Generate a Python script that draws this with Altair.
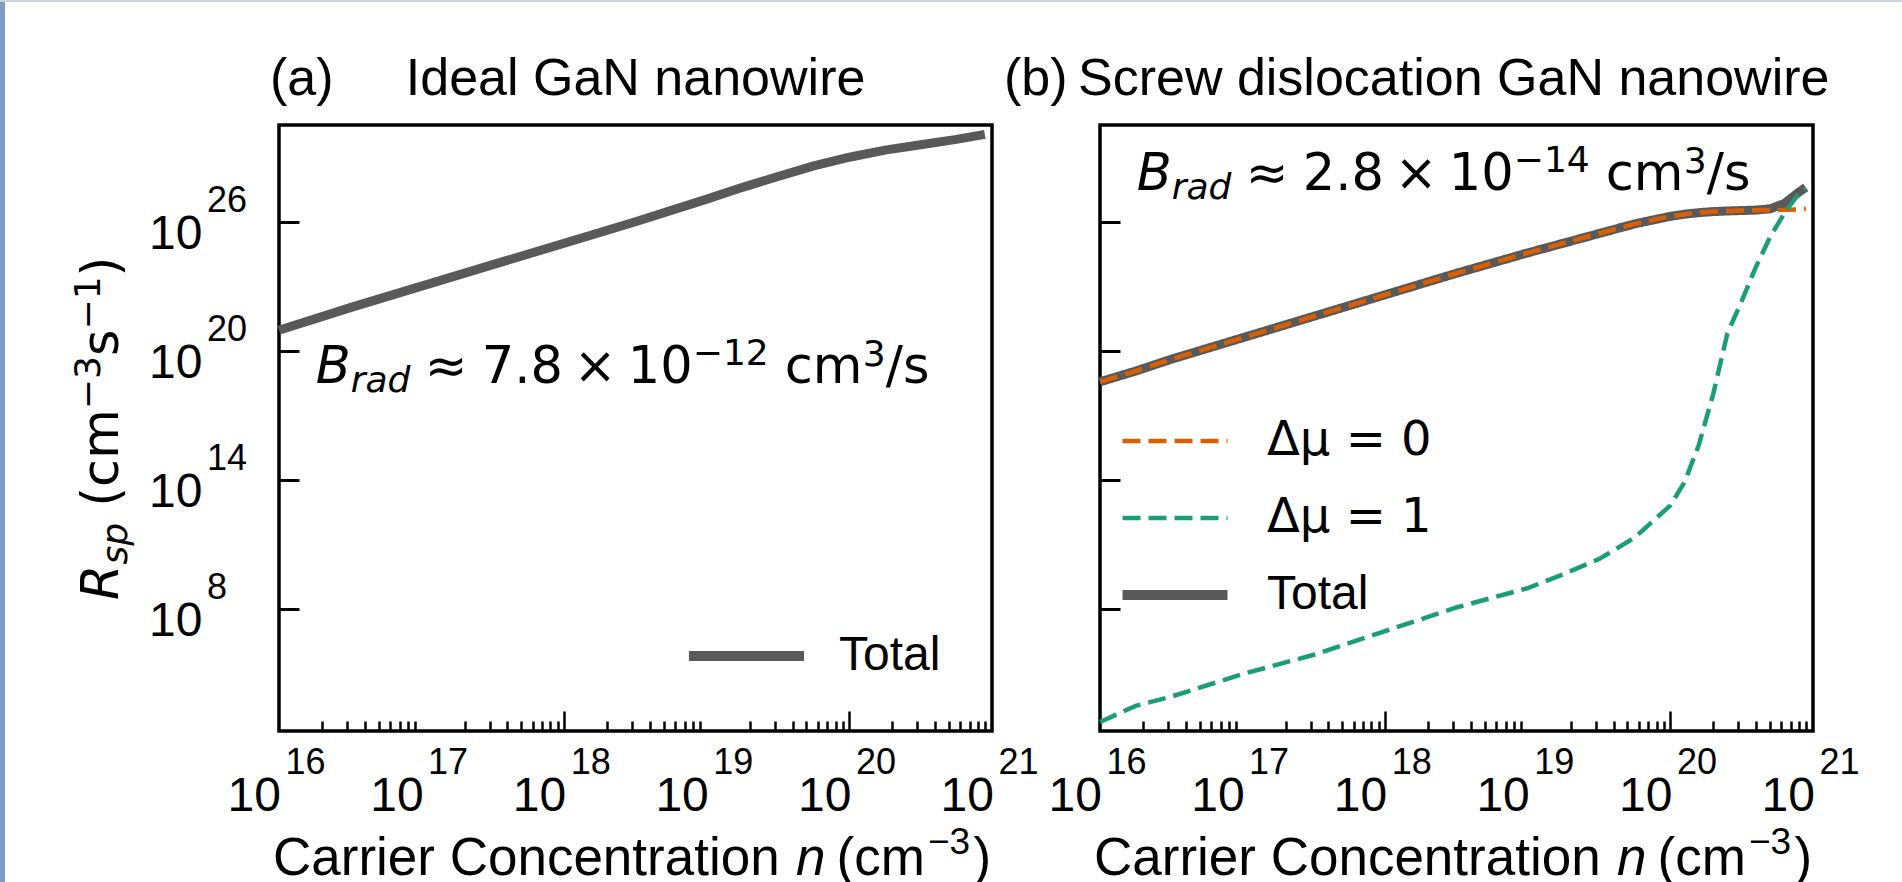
import altair as alt
import pandas as pd

# ------------------------------------------------------------------ data
# (a) Ideal GaN nanowire: carrier concentration n (cm^-3) and total R_sp
n_a = [1e16, 3.16e16, 1e17, 3.16e17, 1e18, 3.16e18, 1e19, 1.78e19, 3.16e19,
       5.62e19, 1e20, 1.78e20, 3.16e20, 5.62e20, 8.9e20]
total_a = [8.9e20, 1.0e22, 1.0e23, 1.0e24, 1.0e25, 1.0e26, 1.12e27, 3.98e27,
           1.26e28, 3.98e28, 1.0e29, 2.14e29, 3.8e29, 6.76e29, 1.15e30]

# (b) Screw dislocation GaN nanowire
n_b = [1e16, 1.78e16, 3.16e16, 1e17, 3.16e17, 1e18, 3.16e18, 1e19, 1.78e19,
       3.16e19, 5.62e19, 1e20, 1.26e20, 1.58e20, 2.0e20, 2.51e20, 3.16e20,
       3.98e20, 5.01e20, 6.31e20, 7.94e20, 8.9e20]
dmu0_b = [3.55e18, 1.12e19, 3.98e19, 3.98e20, 3.98e21, 3.98e22, 3.98e23,
          3.55e24, 1.0e25, 2.82e25, 7.94e25, 1.78e26, 2.24e26, 2.63e26,
          2.95e26, 3.16e26, 3.31e26, 3.39e26, 3.47e26, 3.55e26, 3.72e26, 3.98e26]
dmu1_b = [5.25e2, 2.95e3, 7.94e3, 8.91e4, 7.08e5, 8.91e6, 1.12e8, 8.91e8,
          3.98e9, 2.0e10, 2.0e11, 6.31e12, 7.94e13, 3.98e15, 1.0e18, 6.31e20,
          2.0e22, 7.94e23, 2.0e25, 2.51e26, 2.0e27, 3.55e27]
total_b = [3.55e18, 1.12e19, 3.98e19, 3.98e20, 3.98e21, 3.98e22, 3.98e23,
           3.55e24, 1.0e25, 2.82e25, 7.94e25, 1.78e26, 2.24e26, 2.63e26,
           2.95e26, 3.16e26, 3.31e26, 3.47e26, 3.98e26, 7.08e26, 2.34e27, 3.98e27]

series_b = ["Δμ = 0", "Δμ = 1", "Total"]

x_decades = [1e16, 1e17, 1e18, 1e19, 1e20, 1e21]
x_exponents = ["16", "17", "18", "19", "20", "21"]
x_minor = [m * d for d in x_decades[:-1] for m in range(2, 10)]
y_ticks = [1e8, 1e14, 1e20, 1e26]
y_exponents = ["8", "14", "20", "26"]

title_a = "(a)\u00a0\u00a0\u00a0\u00a0\u00a0Ideal GaN nanowire"
title_b = "(b)\u2009Screw dislocation GaN nanowire"

# ------------------------------------------------------------------ style
FONT = "Liberation Sans"
MATH = "DejaVu Sans"
GRAY, ORANGE, GREEN = "#595959", "#d95f02", "#1b9e77"
W, H = 713, 606

x_scale = alt.Scale(type="log", domain=[1e16, 1e21], nice=False)
y_scale = alt.Scale(type="log", domain=[2.0e2, 3.16e30], nice=False)

decade = "abs(log(datum.value)/LN10 - round(log(datum.value)/LN10)) < 0.001"
tick_x = f"((datum.value == 1e18 || datum.value == 1e20) ? -20 : ({decade} ? 0 : -10))"


def x_axis():
    return alt.Axis(values=x_decades + x_minor, title=None, grid=False, domain=False,
                    tickSize={"expr": tick_x}, tickWidth=2.5, tickColor="black",
                    labelExpr=f"{decade} ? '10' : ''",
                    labelPadding={"expr": f"79 - {tick_x}"},
                    labelAlign="right", labelBaseline="alphabetic", labelOffset=1.5,
                    labelFont=FONT, labelFontSize=48, labelColor="black",
                    labelFlush=False, labelOverlap=False, labelBound=False)


def y_axis(labels):
    kw = dict(values=y_ticks, title=None, grid=False, domain=False,
              tickSize={"expr": "-20"}, tickWidth=3, tickColor="black")
    if labels:
        kw.update(labelExpr="'10'", labelPadding=97, labelAlign="right",
                  labelBaseline="alphabetic", labelOffset=26.5, labelFont=FONT,
                  labelFontSize=48, labelColor="black", labelFlush=False,
                  labelOverlap=False, labelBound=False)
    else:
        kw.update(labels=False)
    return alt.Axis(**kw)


X = alt.X("n:Q", scale=x_scale, axis=x_axis())
Y_a = alt.Y("R:Q", scale=y_scale, axis=y_axis(True))
Y_b = alt.Y("R:Q", scale=y_scale, axis=y_axis(False))
Xs = alt.X("n:Q", scale=x_scale)
Ys = alt.Y("R:Q", scale=y_scale)


def pieces(df, enc, parts, angle=None):
    out = []
    for text, dx, dy, size, font, style in parts:
        kw = dict(text=text, dx=dx, dy=dy, fontSize=size, font=font, fontStyle=style,
                  align="left", baseline="alphabetic", color="black")
        if angle is not None:
            kw["angle"] = angle
        out.append(alt.Chart(df).mark_text(**kw).encode(**enc))
    return out


# B_rad annotation pieces (text, dx, dy, size, font, style)
def brad(mant, exp):
    return [
        ("B", 0, 0, 51, MATH, "italic"),
        ("rad", 35, 9, 36, MATH, "italic"),
        ("≈", 109, 0, 51, MATH, "normal"),
        (mant, 166, 0, 51, MATH, "normal"),
        ("×", 258, 0, 51, MATH, "normal"),
        ("10", 312, 0, 51, MATH, "normal"),
        (exp, 377, -18, 36, MATH, "normal"),
        ("cm", 469, 0, 51, MATH, "normal"),
        ("3", 547, -17, 36, MATH, "normal"),
        ("/s", 570, 0, 51, MATH, "normal"),
    ]


xtitle_parts = [
    ("Carrier Concentration", -362.5, 0, 53, FONT, "normal"),
    ("n", 160.5, 0, 53, FONT, "italic"),
    ("(cm", 201, 0, 53, FONT, "normal"),
    ("−3", 292.5, -21, 37, FONT, "normal"),
    (")", 338, 0, 53, FONT, "normal"),
]

ytitle_parts = [
    ("R", 0, 0, 51, MATH, "italic"),
    ("sp", 35.4, 9, 36, MATH, "italic"),
    ("(cm", 93.2, 0, 51, MATH, "normal"),
    ("−3", 190.8, -18, 36, MATH, "normal"),
    ("s", 243.9, 0, 51, MATH, "normal"),
    ("−1", 270.5, -18, 36, MATH, "normal"),
    (")", 323.6, 0, 51, MATH, "normal"),
]

one = pd.DataFrame({"k": [0]})
xtitle_df = pd.DataFrame({"n": [3.162e18]})
ann_a_df = pd.DataFrame({"n": [1.81e16], "R": [3.09e18]})
ann_b_df = pd.DataFrame({"n": [1.81e16], "R": [2.95e27]})
xexp_df = pd.DataFrame({"n": x_decades, "e": x_exponents})
yexp_df = pd.DataFrame({"R": y_ticks, "e": y_exponents})


def panel_title(text, dx):
    return alt.Chart(one).mark_text(
        text=text, align="left", baseline="alphabetic", font=FONT, fontSize=52,
        color="black", dx=dx).encode(x=alt.value(0), y=alt.value(-30))


def common_layers(ann_df, mant, exp):
    layers = []
    layers.append(alt.Chart(xexp_df).mark_text(
        align="left", baseline="alphabetic", dx=6.5, fontSize=36, font=FONT,
        color="black").encode(x=Xs, y=alt.value(649), text="e:N"))
    layers += pieces(xtitle_df, dict(x=Xs, y=alt.value(750)), xtitle_parts)
    layers += pieces(ann_df, dict(x=Xs, y=Ys), brad(mant, exp))
    return layers


# ------------------------------------------------------------------ panel (a)
df_a = pd.DataFrame({"n": n_a, "R": total_a, "series": "Total"})
leg_a = alt.Legend(title=None, orient="none", legendX=405, legendY=506,
                   symbolType="stroke", symbolSize=13225, symbolStrokeWidth=10,
                   clipHeight=50, labelFont=FONT, labelFontSize=48, labelColor="black",
                   labelOffset=30, padding=0, labelLimit=400)
line_a = alt.Chart(df_a).mark_line(strokeWidth=9, strokeCap="butt").encode(
    x=X, y=Y_a,
    color=alt.Color("series:N", scale=alt.Scale(domain=["Total"], range=[GRAY]), legend=leg_a),
)
yexp = alt.Chart(yexp_df).mark_text(
    align="left", baseline="alphabetic", dy=-9.5, fontSize=36, font=FONT,
    color="black").encode(y=Ys, x=alt.value(-72), text="e:N")
ytitle = pieces(one, dict(x=alt.value(-161), y=alt.value(475)), ytitle_parts, angle=270)
stripe = alt.Chart(one).mark_rule(color="#7f9cc5", strokeWidth=5).encode(
    x=alt.value(-276.5), y=alt.value(-125), y2=alt.value(757))
topline = alt.Chart(one).mark_rule(color="#cdd5df", strokeWidth=2).encode(
    x=alt.value(-279), x2=alt.value(1623), y=alt.value(-124))

panel_a = alt.layer(
    line_a, yexp, *ytitle, *common_layers(ann_a_df, "7.8", "−12"),
    panel_title(title_a, -9), stripe, topline
).properties(width=W, height=H)

# ------------------------------------------------------------------ panel (b)
df_b = pd.concat([
    pd.DataFrame({"n": n_b, "R": dmu0_b, "series": series_b[0]}),
    pd.DataFrame({"n": n_b, "R": dmu1_b, "series": series_b[1]}),
    pd.DataFrame({"n": n_b, "R": total_b, "series": series_b[2]}),
])
leg_b = alt.Legend(title=None, orient="none", legendX=20, legendY=291,
                   symbolType="stroke", symbolSize=11025, clipHeight=50, rowPadding=27,
                   symbolStrokeWidth={"expr": "(datum.value == 'Total' ? 10 : 4.5)"},
                   labelFont={"expr": "(datum.label == 'Total' ? 'Liberation Sans' : 'DejaVu Sans')"},
                   labelFontSize=48, labelColor="black", labelOffset=37, padding=0,
                   labelLimit=400)
enc_b = dict(
    x=X, y=Y_b,
    color=alt.Color("series:N", scale=alt.Scale(domain=series_b, range=[ORANGE, GREEN, GRAY]),
                    legend=leg_b),
    strokeDash=alt.StrokeDash("series:N", scale=alt.Scale(domain=series_b,
                              range=[[18, 8], [18, 8], [1, 0]]), legend=leg_b),
)
line_width = {"Total": 9, "Δμ = 0": 4.5, "Δμ = 1": 4.5}
lines_b = [
    alt.Chart(df_b).transform_filter(alt.datum.series == s)
    .mark_line(strokeCap="butt", strokeWidth=line_width[s]).encode(**enc_b)
    for s in ["Total", "Δμ = 0", "Δμ = 1"]
]
panel_b = alt.layer(
    *lines_b, *common_layers(ann_b_df, "2.8", "−14"), panel_title(title_b, -96)
).properties(width=W, height=H)

chart = alt.hconcat(panel_a, panel_b, spacing=108, bounds="flush").resolve_scale(
    x="independent", y="independent", color="independent", strokeDash="independent",
).resolve_legend(
    color="independent", strokeDash="independent",
).properties(
    autosize=alt.AutoSizeParams(type="none"),
    padding={"left": 279, "top": 125, "right": 1623, "bottom": 757},
).configure(
    background="white", font=FONT,
).configure_view(
    stroke="black", strokeWidth=3.5,
)

chart.save("out.html", embed_options={"renderer": "svg", "actions": False})
